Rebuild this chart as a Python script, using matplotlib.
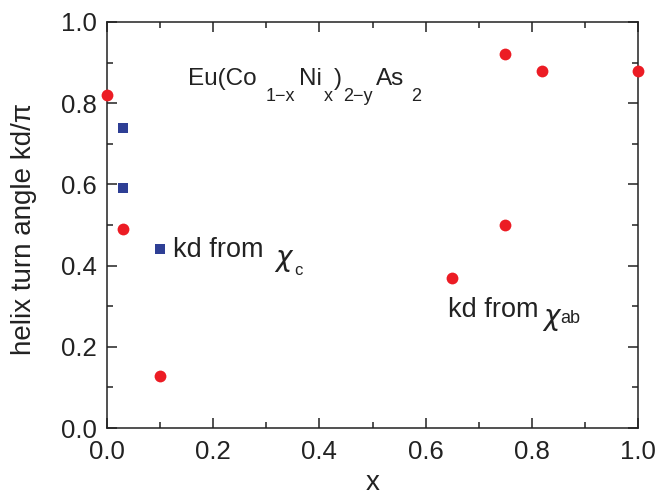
import matplotlib
matplotlib.use('Agg')
import matplotlib.pyplot as plt
from matplotlib.ticker import MultipleLocator, FormatStrFormatter

plt.rcParams['font.family'] = ['Liberation Sans', 'DejaVu Sans']

# kd from chi_ab (red circles)
x_ab = [0.0, 0.03, 0.10, 0.65, 0.75, 0.75, 0.82, 1.0]
kd_ab = [0.82, 0.49, 0.128, 0.37, 0.50, 0.92, 0.879, 0.879]

# kd from chi_c (blue squares)
x_c = [0.03, 0.03, 0.10]
kd_c = [0.74, 0.59, 0.44]

red = '#ec1c24'
blue = '#2e3f95'
ink = '#222222'

W, H = 658, 496
fig = plt.figure(figsize=(W / 100, H / 100), dpi=100)
# axes box in pixels: x 107..638, y 22..428
ax = fig.add_axes([107 / W, (H - 428) / H, 531 / W, 406 / H])

ax.plot(x_ab, kd_ab, 'o', color=red, markersize=8.5, markeredgewidth=0, clip_on=False, zorder=3)
ax.plot(x_c, kd_c, 's', color=blue, markersize=7.8, markeredgewidth=0, clip_on=False, zorder=3)

ax.set_xlim(0, 1.0)
ax.set_ylim(0, 1.0)
ax.xaxis.set_major_locator(MultipleLocator(0.2))
ax.xaxis.set_minor_locator(MultipleLocator(0.1))
ax.yaxis.set_major_locator(MultipleLocator(0.2))
ax.yaxis.set_minor_locator(MultipleLocator(0.1))
ax.xaxis.set_major_formatter(FormatStrFormatter('%.1f'))
ax.yaxis.set_major_formatter(FormatStrFormatter('%.1f'))
ax.tick_params(which='both', direction='in', top=True, right=True, width=1.1,
               labelsize=18.5, colors=ink)
ax.tick_params(which='major', length=7)
ax.tick_params(which='minor', length=4)
ax.tick_params(axis='x', pad=8.5)
ax.tick_params(axis='y', pad=7.5)
for s in ax.spines.values():
    s.set_linewidth(1.1)
    s.set_color(ink)

ax.set_xlabel('x', fontsize=20, va='baseline', color=ink)
ax.xaxis.set_label_coords(0.5, -0.1527)
ax.set_ylabel('helix turn angle kd/π', fontsize=20, va='center', color=ink)
ax.yaxis.set_label_coords(-0.157, 0.49)


def px(xp, yp):
    """pixel position -> data coords of this axes"""
    return (xp - 107) / 531, (428 - yp) / 406


def put(text, xp, yp, size, **kw):
    xd, yd = px(xp, yp)
    ax.text(xd, yd, text, fontsize=size, ha='left', va='baseline', color=ink, **kw)


# formula label, subscripts dropped well below the baseline
for txt, xp, yp, sz in [('Eu(Co', 188, 85, 17.5), ('1\u2212x', 266, 101, 13),
                        ('Ni', 299, 85, 17.5), ('x', 324, 101, 13),
                        (')', 334, 85, 17.5), ('2\u2212y', 343, 101, 13),
                        ('As', 376, 85, 17.5), ('2', 411, 101, 13)]:
    put(txt, xp, yp, sz)

# kd from chi_c
put('kd from', 173, 257, 19.5)
put('\u03c7', 275, 266, 20, family='DejaVu Sans', style='oblique')
put('c', 294, 275, 12)

# kd from chi_ab
put('kd from', 448, 317, 19.5)
put('\u03c7', 543, 325, 20, family='DejaVu Sans', style='oblique')
put('ab', 560, 323, 13)

fig.savefig('out.png', dpi=100, facecolor='white')
